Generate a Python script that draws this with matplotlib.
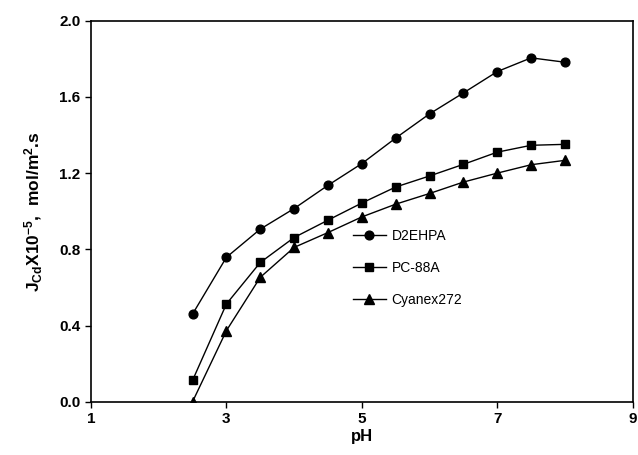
import matplotlib
matplotlib.use("Agg")
import matplotlib.pyplot as plt

ph = [2.5, 3.0, 3.5, 4.0, 4.5, 5.0, 5.5, 6.0, 6.5, 7.0, 7.5, 8.0]
d2ehpa = [0.46, 0.758, 0.906, 1.014, 1.136, 1.25, 1.384, 1.511, 1.621, 1.733, 1.805, 1.782]
pc88a = [0.112, 0.513, 0.731, 0.862, 0.953, 1.043, 1.127, 1.185, 1.246, 1.31, 1.346, 1.351]
cyanex = [0.0, 0.373, 0.653, 0.81, 0.888, 0.97, 1.037, 1.093, 1.153, 1.2, 1.244, 1.267]
series_names = ["D2EHPA", "PC-88A", "Cyanex272"]
xticks = [1, 3, 5, 7, 9]
yticks = [0.0, 0.4, 0.8, 1.2, 1.6, 2.0]

plt.rcParams['font.family'] = ['Liberation Sans', 'DejaVu Sans']
plt.rcParams['mathtext.fontset'] = 'custom'
plt.rcParams['mathtext.rm'] = 'Liberation Sans:bold'
plt.rcParams['mathtext.it'] = 'Liberation Sans:bold'
plt.rcParams['mathtext.bf'] = 'Liberation Sans:bold'

fig = plt.figure(figsize=(6.38, 4.55), dpi=100)
ax = fig.add_axes([0.1426, 0.1171, 0.8491, 0.8374])

ax.plot(ph, d2ehpa, color='black', lw=1.0, marker='o', ms=6.3, label=series_names[0])
ax.plot(ph, pc88a, color='black', lw=1.0, marker='s', ms=6.3, label=series_names[1])
ax.plot(ph, cyanex, color='black', lw=1.0, marker='^', ms=6.8, label=series_names[2])

ax.set_xlim(1, 9)
ax.set_ylim(0, 2.0)
ax.set_xticks(xticks)
ax.set_yticks(yticks)
ax.set_yticklabels([f"{v:.1f}" for v in yticks])
ax.tick_params(direction='out', length=4, width=1, labelsize=11)
for lab in ax.get_xticklabels() + ax.get_yticklabels():
    lab.set_fontweight('bold')
for s in ax.spines.values():
    s.set_linewidth(1.2)

ax.set_xlabel('pH', fontsize=12, fontweight='bold', labelpad=2)
ax.set_ylabel(r'J$_{Cd}$X10$^{-5}$,  mol/m$^{2}$.s', fontsize=12.5, fontweight='bold', labelpad=10)

leg = ax.legend(loc='upper left', bbox_to_anchor=(0.473, 0.468), frameon=False,
                fontsize=10, handlelength=2.4, handletextpad=0.4, labelspacing=1.3,
                borderaxespad=0)

fig.savefig('out.png', dpi=100)
